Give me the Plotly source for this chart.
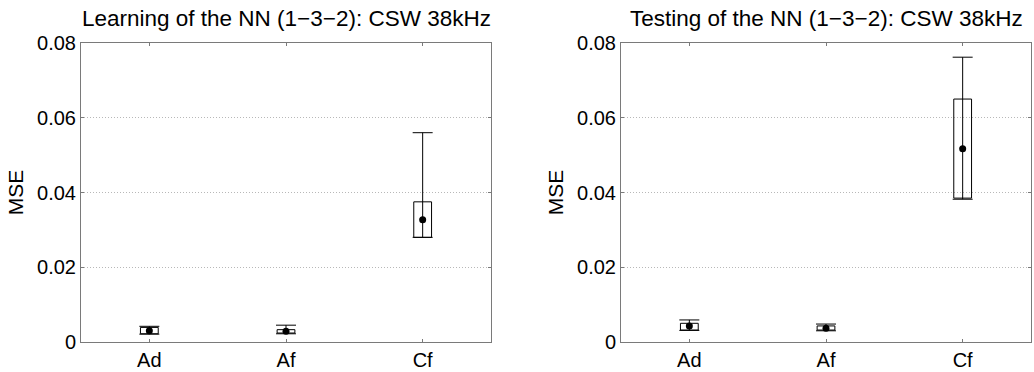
import plotly.graph_objects as go

categories = ["Ad", "Af", "Cf"]
x_pos = [1, 2, 3]

learn_min = [0.0021, 0.0022, 0.0280]
learn_q1 = [0.0022, 0.0024, 0.0280]
learn_q3 = [0.0039, 0.0033, 0.0375]
learn_max = [0.0042, 0.0045, 0.0560]
learn_mean = [0.0030, 0.0029, 0.0327]

test_min = [0.0031, 0.0030, 0.0382]
test_q1 = [0.0032, 0.0032, 0.0385]
test_q3 = [0.0050, 0.0043, 0.0650]
test_max = [0.0059, 0.0048, 0.0762]
test_mean = [0.0043, 0.0037, 0.0517]

titles = ["Learning of the NN (1\u22123\u22122): CSW 38kHz",
          "Testing of the NN (1\u22123\u22122): CSW 38kHz"]
y_ticks = [0, 0.02, 0.04, 0.06, 0.08]
y_ticktext = ["0", "0.02", "0.04", "0.06", "0.08"]

FONT = "Liberation Sans, Arial, Helvetica, sans-serif"
W, H = 1034, 372

fig = go.Figure()

datasets = [
    (learn_min, learn_q1, learn_q3, learn_max, learn_mean, "x", "y"),
    (test_min, test_q1, test_q3, test_max, test_mean, "x2", "y2"),
]

for mn, q1, q3, mx, mean, xa, ya in datasets:
    mid = [(a + b) / 2 for a, b in zip(mn, mx)]
    fig.add_trace(go.Scatter(
        x=x_pos, y=mid, mode="markers", marker=dict(size=0.1, color="rgba(0,0,0,0)"),
        error_y=dict(type="data", symmetric=False,
                     array=[b - m for b, m in zip(mx, mid)],
                     arrayminus=[m - a for a, m in zip(mn, mid)],
                     color="black", thickness=1, width=10),
        xaxis=xa, yaxis=ya, showlegend=False, hoverinfo="skip"))
    fig.add_trace(go.Bar(
        x=x_pos, y=[b - a for a, b in zip(q1, q3)], base=q1, width=0.13,
        marker=dict(color="rgba(255,255,255,0)", line=dict(color="black", width=1)),
        xaxis=xa, yaxis=ya, showlegend=False))
    fig.add_trace(go.Scatter(
        x=x_pos, y=mean, mode="markers", marker=dict(size=7, color="black"),
        xaxis=xa, yaxis=ya, showlegend=False))

axis_common = dict(showline=True, mirror="ticks", linecolor="#7a7a7a", linewidth=1,
                   ticks="inside", ticklen=3, tickcolor="#7a7a7a", zeroline=False,
                   automargin=False, tickfont=dict(size=20, family=FONT, color="black"))

grid = dict(showgrid=True, gridcolor="#b8b8b8", griddash="1px,2px", gridwidth=1)
ytitle = dict(text="MSE", standoff=7, font=dict(size=21, family=FONT, color="black"))

fig.update_layout(
    width=W, height=H,
    margin=dict(l=0, r=0, t=0, b=0),
    paper_bgcolor="white", plot_bgcolor="white",
    font=dict(family=FONT, size=20, color="black"),
    barmode="overlay",
    xaxis=dict(domain=[81 / W, 491 / W], range=[0.5, 3.5], tickvals=x_pos,
               ticktext=categories, showgrid=False, anchor="y", **axis_common),
    yaxis=dict(domain=[30 / H, 329 / H], range=[0, 0.08], tickvals=y_ticks,
               ticktext=y_ticktext, anchor="x", title=ytitle, **grid, **axis_common),
    xaxis2=dict(domain=[621 / W, 1031 / W], range=[0.5, 3.5], tickvals=x_pos,
                ticktext=categories, showgrid=False, anchor="y2", **axis_common),
    yaxis2=dict(domain=[30 / H, 329 / H], range=[0, 0.08], tickvals=y_ticks,
                ticktext=y_ticktext, anchor="x2", title=ytitle, **grid, **axis_common),
)

for i, t in enumerate(titles):
    fig.add_annotation(text=t, x=[286 / W, 826 / W][i], y=1 - 33 / H,
                       xref="paper", yref="paper", xanchor="center", yanchor="bottom",
                       showarrow=False, font=dict(size=22.5, family=FONT, color="black"))

fig.write_html("out.html", config={"displayModeBar": False},
               post_script="document.body.style.margin='0px';document.body.style.overflow='hidden';")
